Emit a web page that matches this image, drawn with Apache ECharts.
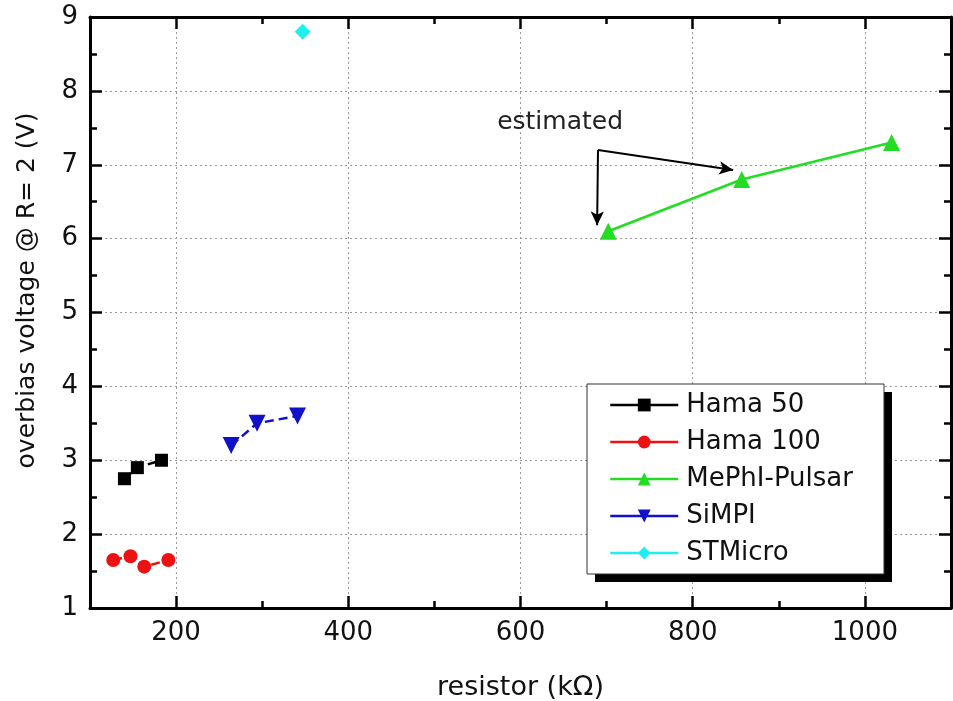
<!DOCTYPE html>
<html>
    <head>
        <meta charset="utf-8">
        <title>overbias voltage</title>
        <script src="https://cdn.jsdelivr.net/npm/echarts@6/dist/echarts.min.js"></script>
    </head>
    <body style="margin:0">
        <div id="main" style="width: 953px;height: 701px;"></div>
        <script>
            // data
            let hama50 = [[140, 2.75], [155, 2.9], [183, 3.0]];
            let hama100 = [[127, 1.65], [147, 1.7], [163, 1.56], [191, 1.65]];
            let mephi = [[702, 6.1], [857, 6.8], [1031, 7.3]];
            let simpi = [[264, 3.2], [294, 3.5], [341, 3.6]];
            let stmicro = [[347, 8.8]];
            let legendNames = ['Hama 50', 'Hama 100', 'MePhI-Pulsar', 'SiMPI', 'STMicro'];
            // annotation: arrows from this point to the estimated points
            let arrowFrom = [690, 7.2];
            let arrowTo = [[847, 6.93], [689, 6.18]];
            let noteAt = [646, 7.57];

            const font = 'DejaVu Sans, sans-serif';
            let gridLine = { show: true, lineStyle: { color: '#999', type: [2, 3], width: 1 } };
            let axisLine = { show: true, onZero: false, lineStyle: { color: '#000', width: 3 } };
            let tick = { inside: true, length: 12, lineStyle: { color: '#000', width: 2.5 } };
            let minor = { show: true, splitNumber: 2, length: 7, lineStyle: { color: '#000', width: 2.5 } };

            function lineSeries(name, data, color, symbol, size, dashed, rotate) {
                return {
                    name: name,
                    type: 'line',
                    data: data,
                    symbol: symbol,
                    symbolSize: size,
                    symbolRotate: rotate || 0,
                    color: color,
                    lineStyle: { color: color, width: 2.5, type: dashed ? [9, 5] : 'solid' },
                    itemStyle: { color: color },
                    z: 3
                };
            }

            let pulsar = lineSeries('MePhI-Pulsar', mephi, '#22dd22', 'triangle', 17, false);
            pulsar.markLine = {
                silent: true,
                symbol: ['none', 'arrow'],
                symbolSize: [10, 14],
                lineStyle: { color: '#000', width: 2, type: 'solid' },
                label: { show: false },
                data: arrowTo.map(p => [{ coord: arrowFrom }, { coord: p }])
            };
            pulsar.markPoint = {
                silent: true,
                symbol: 'circle',
                symbolSize: 1,
                itemStyle: { color: 'rgba(0,0,0,0)' },
                label: { show: true, position: 'inside', formatter: 'estimated', color: '#222', fontSize: 25, fontFamily: font },
                data: [{ coord: noteAt }]
            };

            var option = {
                animation: false,
                backgroundColor: '#fff',
                grid: { left: 90, right: 2, top: 17, bottom: 93, outerBoundsMode: 'none' },
                graphic: [
                    // legend frame with its drop shadow
                    { type: 'rect', shape: { x: 595, y: 392, width: 297, height: 190 }, style: { fill: '#000' }, z: 10 },
                    { type: 'rect', shape: { x: 587, y: 384, width: 297, height: 190 }, style: { fill: '#fff', stroke: '#333', lineWidth: 1 }, z: 10 }
                ],
                legend: {
                    orient: 'vertical',
                    left: 609,
                    top: 392,
                    padding: 0,
                    z: 20,
                    itemWidth: 68,
                    itemHeight: 16,
                    itemGap: 11,
                    lineStyle: { type: 'solid', width: 2.5 },
                    textStyle: { fontSize: 26, lineHeight: 26, color: '#111', fontFamily: font, padding: [0, 0, 0, 3] },
                    data: legendNames
                },
                xAxis: [{
                    type: 'value',
                    min: 100,
                    max: 1100,
                    splitNumber: 5,
                    name: 'resistor (kΩ)',
                    nameLocation: 'middle',
                    nameGap: 66,
                    nameTextStyle: { fontSize: 27, color: '#111', fontFamily: font },
                    axisLine: axisLine,
                    axisTick: tick,
                    minorTick: minor,
                    axisLabel: { fontSize: 26, color: '#111', margin: 12, fontFamily: font,
                        showMinLabel: false, showMaxLabel: false, formatter: v => String(v) },
                    splitLine: gridLine
                }, {
                    type: 'value',
                    position: 'top',
                    min: 100,
                    max: 1100,
                    splitNumber: 5,
                    axisLine: axisLine,
                    axisTick: tick,
                    minorTick: minor,
                    axisLabel: { show: false },
                    splitLine: { show: false }
                }],
                yAxis: [{
                    type: 'value',
                    min: 1,
                    max: 9,
                    interval: 1,
                    name: 'overbias voltage @ R= 2 (V)',
                    nameLocation: 'middle',
                    nameGap: 50,
                    nameTextStyle: { fontSize: 25, color: '#111', fontFamily: font, padding: [0, 0, 0, 44] },
                    axisLine: axisLine,
                    axisTick: tick,
                    minorTick: minor,
                    axisLabel: { fontSize: 26, color: '#111', margin: 12, fontFamily: font },
                    splitLine: gridLine
                }, {
                    type: 'value',
                    position: 'right',
                    min: 1,
                    max: 9,
                    interval: 1,
                    axisLine: axisLine,
                    axisTick: tick,
                    minorTick: minor,
                    axisLabel: { show: false },
                    splitLine: { show: false }
                }],
                series: [
                    lineSeries('Hama 50', hama50, '#000000', 'rect', 13, true),
                    lineSeries('Hama 100', hama100, '#ee1111', 'circle', 14, true),
                    pulsar,
                    lineSeries('SiMPI', simpi, '#1111cc', 'triangle', 17, true, 180),
                    lineSeries('STMicro', stmicro, '#22eeee', 'diamond', 16, false)
                ]
            };
            let chart = echarts.init(document.getElementById('main'));
            chart.setOption(option);
        </script>
    </body>
</html>
